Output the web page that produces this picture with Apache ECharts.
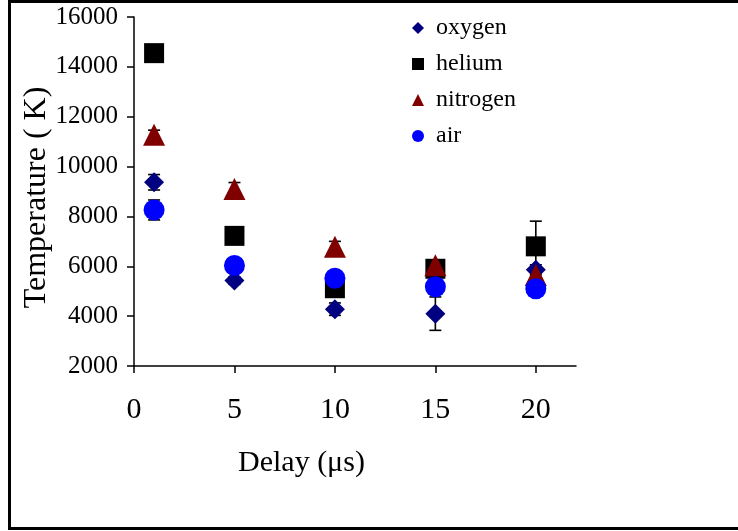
<!DOCTYPE html>
<html>
<head>
<meta charset="utf-8">
<script src="https://cdn.jsdelivr.net/npm/echarts@6/dist/echarts.min.js"></script>
<style>html,body{margin:0;padding:0;background:#fff}#c{width:738px;height:531px}</style>
</head>
<body>
<div id="c"></div>
<script>
const delays = [1, 5, 10, 15, 20];
const xTicks = [0, 5, 10, 15, 20];
const oxygen = [9370, 5425, 4280, 4100, 5860];
const oxygenErr = [310, 150, 250, 670, 200];
const helium = [14550, 7220, 5120, 5900, 6800];
const heliumErr = [300, 300, 300, 300, 1010];
const nitrogen = [11280, 9100, 6780, 6040, 5650];
const nitrogenErr = [180, 260, 220, 200, 200];
const air = [8260, 6030, 5520, 5180, 5100];
const airErr = [400, 200, 200, 200, 200];

const FONT = 'Liberation Serif';
const chart = echarts.init(document.getElementById('c'));

function pts(vals) { return delays.map((d, i) => [d, vals[i]]); }
function errPts(vals, errs) { return delays.map((d, i) => [d, vals[i], errs[i]]); }

function errSeries(vals, errs) {
  return {
    type: 'custom',
    z: 1,
    silent: true,
    data: errPts(vals, errs),
    renderItem: function (params, api) {
      const x = api.value(0), y = api.value(1), e = api.value(2);
      const top = api.coord([x, y + e]);
      const bot = api.coord([x, y - e]);
      const hw = 6;
      const st = { stroke: '#000', lineWidth: 1.6 };
      return {
        type: 'group',
        children: [
          { type: 'line', shape: { x1: top[0], y1: top[1], x2: bot[0], y2: bot[1] }, style: st },
          { type: 'line', shape: { x1: top[0] - hw, y1: top[1], x2: top[0] + hw, y2: top[1] }, style: st },
          { type: 'line', shape: { x1: bot[0] - hw, y1: bot[1], x2: bot[0] + hw, y2: bot[1] }, style: st }
        ]
      };
    }
  };
}

chart.setOption({
  backgroundColor: '#fff',
  animation: false,
  grid: { left: 134, right: 162, top: 17, bottom: 165 },
  legend: {
    orient: 'vertical',
    left: 412, top: 16,
    padding: 0,
    itemWidth: 12, itemHeight: 12,
    itemGap: 12,
    textStyle: { fontFamily: FONT, fontSize: 24, color: '#000', padding: [0, 0, 0, 7] },
    data: ['oxygen', 'helium', 'nitrogen', 'air']
  },
  xAxis: {
    type: 'value',
    min: 0, max: 22, interval: 5,
    splitLine: { show: false },
    axisLine: { lineStyle: { color: '#000', width: 1.5 } },
    axisTick: { show: true, length: 7, inside: false, lineStyle: { color: '#000', width: 1.5 }, customValues: xTicks },
    axisLabel: { fontFamily: FONT, fontSize: 30, color: '#000', margin: 29, customValues: xTicks }
  },
  yAxis: {
    type: 'value',
    min: 2000, max: 16000, interval: 2000,
    name: 'Temperature ( K)',
    nameLocation: 'middle',
    nameGap: 81,
    nameMoveOverlap: false,
    nameTextStyle: { fontFamily: FONT, fontSize: 32, color: '#000', padding: [0, 12, 0, 0] },
    splitLine: { show: false },
    axisLine: { show: true, lineStyle: { color: '#000', width: 1.5 } },
    axisTick: { show: true, length: 7, lineStyle: { color: '#000', width: 1.5 } },
    axisLabel: { fontFamily: FONT, fontSize: 25, color: '#000', margin: 16, formatter: function (v) { return String(v); } }
  },
  graphic: [
    { type: 'text', left: 305 - 67, top: 448, style: { text: 'Delay (\u03bcs)', font: '30px "Liberation Serif"', fill: '#000' } },
    { type: 'rect', shape: { x: 9.5, y: 1.5, width: 740, height: 527 }, style: { fill: 'none', stroke: '#000', lineWidth: 3 }, silent: true }
  ],
  series: [
    errSeries(oxygen, oxygenErr),
    errSeries(helium, heliumErr),
    errSeries(nitrogen, nitrogenErr),
    errSeries(air, airErr),
    { name: 'oxygen', type: 'scatter', z: 2, symbol: 'diamond', symbolSize: 20, itemStyle: { color: '#000080', opacity: 1 }, data: pts(oxygen) },
    { name: 'helium', type: 'scatter', z: 2, symbol: 'rect', symbolSize: 20, itemStyle: { color: '#000000', opacity: 1 }, data: pts(helium) },
    { name: 'nitrogen', type: 'scatter', z: 2, symbol: 'triangle', symbolSize: 22, itemStyle: { color: '#800000', opacity: 1 }, data: pts(nitrogen) },
    { name: 'air', type: 'scatter', z: 2, symbol: 'circle', symbolSize: 21, itemStyle: { color: '#0000ff', opacity: 1 }, data: pts(air) }
  ]
});
</script>
</body>
</html>
